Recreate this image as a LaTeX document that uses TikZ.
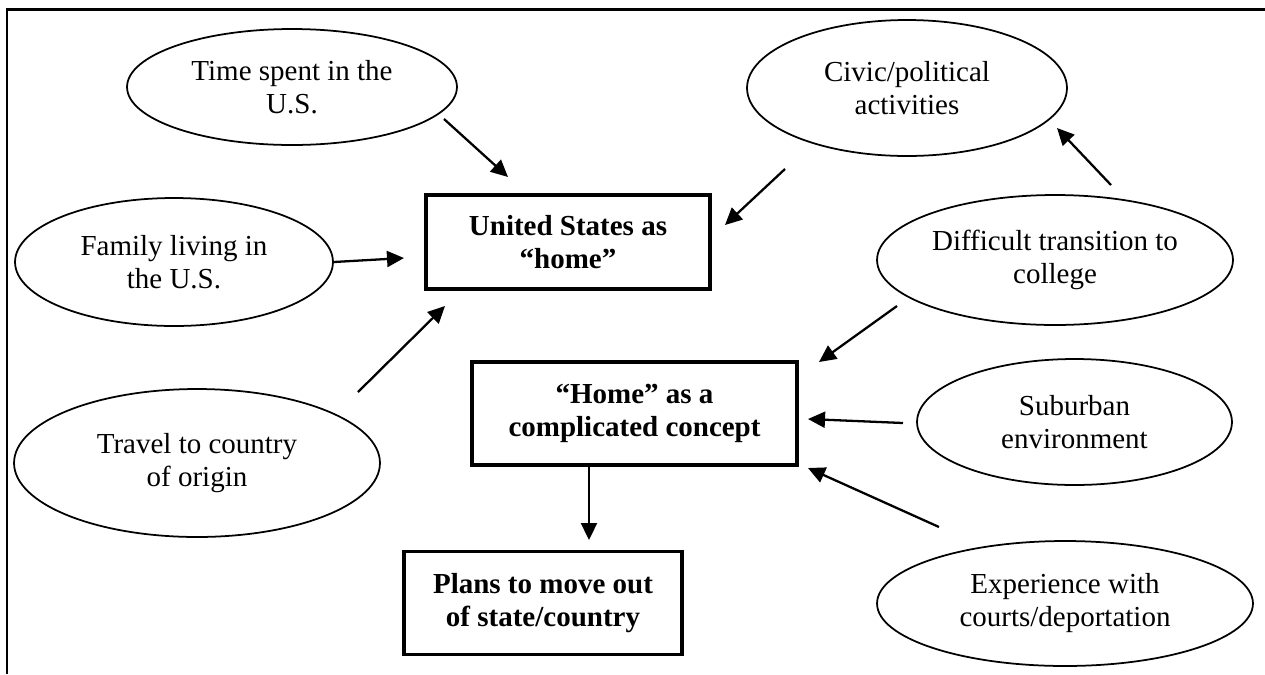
\documentclass[tikz,border=0pt]{standalone}
\usepackage{fontspec}
\setmainfont{Liberation Serif}
\usetikzlibrary{shapes.geometric,arrows.meta}

\begin{document}
\begin{tikzpicture}[x=0.02cm, y=-0.02cm,
    oval/.style = {draw, ellipse, line width=1pt, inner sep=0pt, align=center,
      font=\fontsize{16.5}{18.8}\selectfont},
    box/.style = {draw, rectangle, line width=2pt, inner sep=0pt, align=center,
      font=\bfseries\fontsize{16.5}{18.8}\selectfont},
    arr/.style = {line width=1.3pt, -{Triangle[length=0.34cm, width=0.32cm]}}]
    \useasboundingbox (0,0) rectangle (1265,674);
    \draw[line width=1.7pt] (7,674) -- (7,9) -- (1265,9);
    % boxes
    \node[box, minimum width=5.68cm, minimum height=1.88cm] (1) at (568,242) {United States as\\``home''};
    \node[box, minimum width=6.5cm, minimum height=2.06cm] (2) at (634.5,413.5) {``Home'' as a\\complicated concept};
    \node[box, minimum width=5.56cm, minimum height=2.06cm] (3) at (543,603) {Plans to move out\\of state/country};
    % ovals
    \node[oval, minimum width=6.6cm, minimum height=2.32cm] (4) at (292,87) {Time spent in the\\U.S.};
    \node[oval, minimum width=6.4cm, minimum height=2.72cm] (5) at (907,88) {Civic/political\\activities};
    \node[oval, minimum width=6.36cm, minimum height=2.56cm] (6) at (174,262) {Family living in\\the U.S.};
    \node[oval, minimum width=7.32cm, minimum height=2.96cm] (7) at (197,463) {Travel to country\\of origin};
    \node[oval, minimum width=7.12cm, minimum height=2.6cm] (8) at (1055,260) {Difficult transition to\\college};
    \node[oval, minimum width=6.3cm, minimum height=2.52cm] (9) at (1074.5,422) {Suburban\\environment};
    \node[oval, minimum width=7.52cm, minimum height=2.5cm] (10) at (1065,603.5) {Experience with\\courts/deportation};
    % arrows
    \draw[arr] ([shift={(152,32)}]4.center) -- ([shift={(-60,-65)}]1.center);
    \draw[arr] ([shift={(-122,81)}]5.center) -- ([shift={(157,-17)}]1.center);
    \draw[arr] (6.east) -- ([shift={(-164,16)}]1.center);
    \draw[arr] ([shift={(161,-71)}]7.center) -- ([shift={(-123,64)}]1.center);
    \draw[arr] ([shift={(56,-75)}]8.center) -- ([shift={(150,40)}]5.center);
    \draw[arr] ([shift={(-158,46)}]8.center) -- ([shift={(184.5,-51.5)}]2.center);
    \draw[arr] ([shift={(-171.5,1)}]9.center) -- ([shift={(173.5,5.5)}]2.center);
    \draw[arr] ([shift={(-126,-76.5)}]10.center) -- ([shift={(173.5,54.5)}]2.center);
    \draw[arr] ([shift={(-45.5,51.5)}]2.center) -- ([shift={(46,-63)}]3.center);
\end{tikzpicture}
\end{document}
